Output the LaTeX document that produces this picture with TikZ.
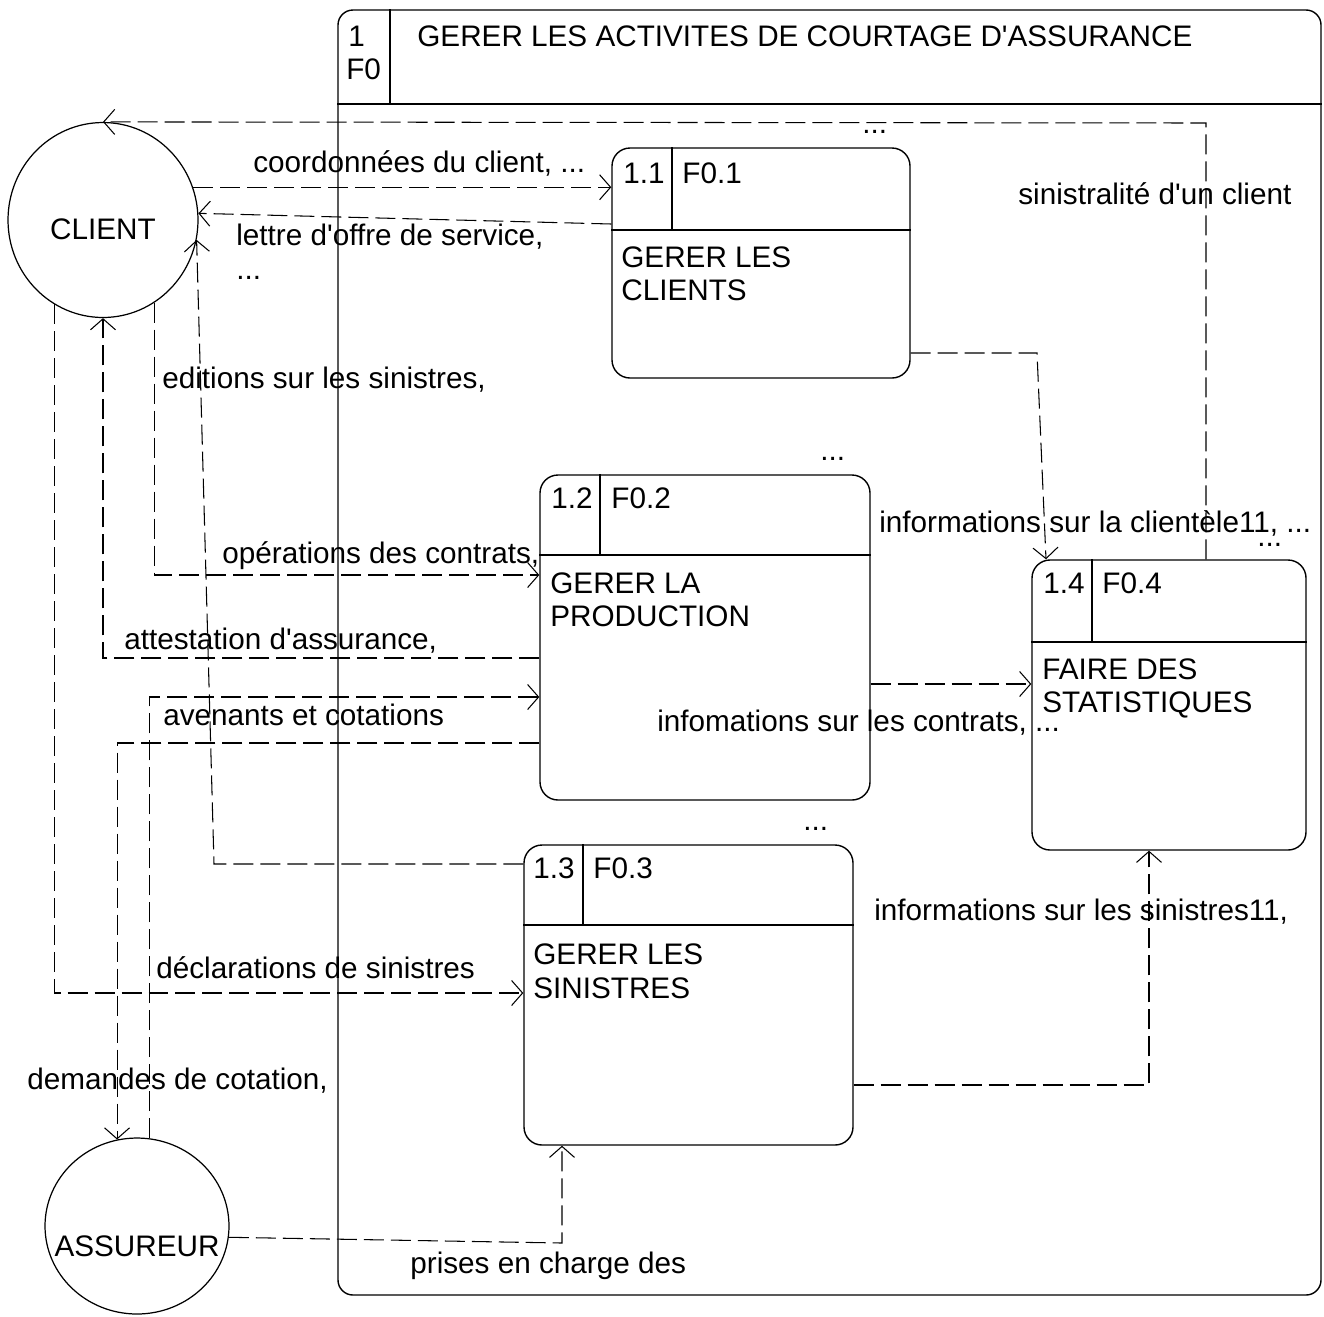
\documentclass[tikz,border=0pt]{standalone}
\usepackage{fontspec}
\setmainfont{Liberation Sans}[Ligatures=TeXOff]
\usetikzlibrary{arrows.meta,fit,shapes.geometric}

\begin{document}
\begin{tikzpicture}[x=0.02cm,y=-0.02cm,
  font=\fontsize{16.9pt}{18.8pt}\selectfont,
  txt/.style={anchor=base west, inner sep=0pt},
  ctxt/.style={anchor=base, inner sep=0pt},
  frame/.style={draw, line width=0.8pt, rounded corners=0.3cm, inner sep=0pt},
  procbox/.style={draw, line width=0.8pt, rounded corners=0.36cm, inner sep=0pt},
  rule/.style={line width=0.7pt},
  ext/.style={draw, ellipse, line width=0.7pt, inner sep=0pt},
  flow/.style={line width=0.6pt, dash pattern=on 0.4cm off 0.14cm,
    -{Straight Barb[length=0.22cm,width=0.5cm]}},
]
\useasboundingbox (0,0) rectangle (1324,1316);

% main process F0
\node[frame, fit={(338,10) (1321,1295)}] (f0) {};
\draw[rule] (f0.west |- 0,104) -- (f0.east |- 0,104);
\draw[rule] (f0.north -| 390,0) -- (390,104);
\node[txt] (f0num) at (348,46) {1};
\node[txt] (f0id) at (346,79) {F0};
\node[txt] (f0title) at (417,46) {GERER LES ACTIVITES DE COURTAGE D'ASSURANCE};

% external actors
\node[ext, minimum width=3.8cm, minimum height=3.9cm] (client) at (103,220) {};
\node[ctxt] (clientlbl) at (103,239) {CLIENT};
\node[ext, minimum width=3.68cm, minimum height=3.52cm] (assureur) at (137,1226) {};
\node[ctxt] (assureurlbl) at (137,1256) {ASSUREUR};

% process 1.1
\node[procbox, fit={(612,148) (910,378)}] (p11) {};
\draw[rule] (p11.west |- 0,230) -- (p11.east |- 0,230);
\draw[rule] (p11.north -| 672,0) -- (672,230);
\node[txt] (p11num) at (623,183) {1.1};
\node[txt] (p11id) at (682,183) {F0.1};
\node[txt] (p11a) at (621,267) {GERER LES};
\node[txt] (p11b) at (621,300) {CLIENTS};

% process 1.2
\node[procbox, fit={(540,475) (870,800)}] (p12) {};
\draw[rule] (p12.west |- 0,555) -- (p12.east |- 0,555);
\draw[rule] (p12.north -| 600,0) -- (600,555);
\node[txt] (p12num) at (551,508) {1.2};
\node[txt] (p12id) at (611,508) {F0.2};
\node[txt] (p12a) at (550,593) {GERER LA};
\node[txt] (p12b) at (550,626) {PRODUCTION};

% process 1.3
\node[procbox, fit={(524,845) (853,1145)}] (p13) {};
\draw[rule] (p13.west |- 0,925) -- (p13.east |- 0,925);
\draw[rule] (p13.north -| 583,0) -- (583,925);
\node[txt] (p13num) at (533,878) {1.3};
\node[txt] (p13id) at (593,878) {F0.3};
\node[txt] (p13a) at (533,964) {GERER LES};
\node[txt] (p13b) at (533,998) {SINISTRES};

% process 1.4
\node[procbox, fit={(1032,560) (1306,850)}] (p14) {};
\draw[rule] (p14.west |- 0,642) -- (p14.east |- 0,642);
\draw[rule] (p14.north -| 1092,0) -- (1092,642);
\node[txt] (p14num) at (1043,593) {1.4};
\node[txt] (p14id) at (1102,593) {F0.4};
\node[txt] (p14a) at (1042,679) {FAIRE DES};
\node[txt] (p14b) at (1042,712) {STATISTIQUES};

% data flows
\draw[flow] (p14.north -| 1206,0) -- (1206,123) -- (client.north);
\draw[flow] (client.20) -- (p11.west |- client.20);
\draw[flow] (p11.west |- 0,224) -- (client.4);
\draw[flow] (p13.west |- 0,864) -- (214,864) -- (client.-12);
\draw[flow] (p12.west |- 0,658) -- (client.south |- 0,658) -- (client.south);
\draw[flow] (client.-58) -- (client.-58 |- 0,575) -- (p12.west |- 0,575);
\draw[flow] (client.-120) -- (client.-120 |- 0,993) -- (p13.west |- 0,993);
\draw[flow] (assureur.82) -- (assureur.82 |- 0,697) -- (p12.west |- 0,697);
\draw[flow] (p12.west |- 0,743) -- (assureur.103 |- 0,743) -- (assureur.103);
\draw[flow] (assureur.-7) -- (562,1243) -- (p13.south -| 562,0);
\draw[flow] (p11.east |- 0,353) -- (1037,353) -- (p14.north -| 1046,0);
\draw[flow] (p12.east |- 0,684) -- (p14.west |- 0,684);
\draw[flow] (p13.east |- 0,1085) -- (1149,1085) -- (p14.south -| 1149,0);

% flow labels
\node[txt] (l1) at (253,172) {coordonnées du client, ...};
\node[txt] (l2) at (236,245) {lettre d'offre de service,};
\node[txt] (l2b) at (236,279) {...};
\node[txt] (l3) at (162,388) {editions sur les sinistres,};
\node[txt] (l4) at (222,563) {opérations des contrats,};
\node[txt] (l5) at (124,649) {attestation d'assurance,};
\node[txt] (l6) at (163,725) {avenants et cotations};
\node[txt] (l7) at (657,731) {infomations sur les contrats, ...};
\node[txt] (l8) at (879,532) {informations sur la clientèle11, ...};
\node[txt] (l9) at (1018,204) {sinistralité d'un client};
\node[txt] (l10) at (874,920) {informations sur les sinistres11,};
\node[txt] (l11) at (156,978) {déclarations de sinistres};
\node[txt] (l12) at (27,1089) {demandes de cotation,};
\node[txt] (l13) at (410,1273) {prises en charge des};
\node[txt] (d1) at (862,133) {...};
\node[txt] (d2) at (820,460) {...};
\node[txt] (d3) at (803,830) {...};
\node[txt] (d4) at (1257,546) {...};
\end{tikzpicture}
\end{document}
